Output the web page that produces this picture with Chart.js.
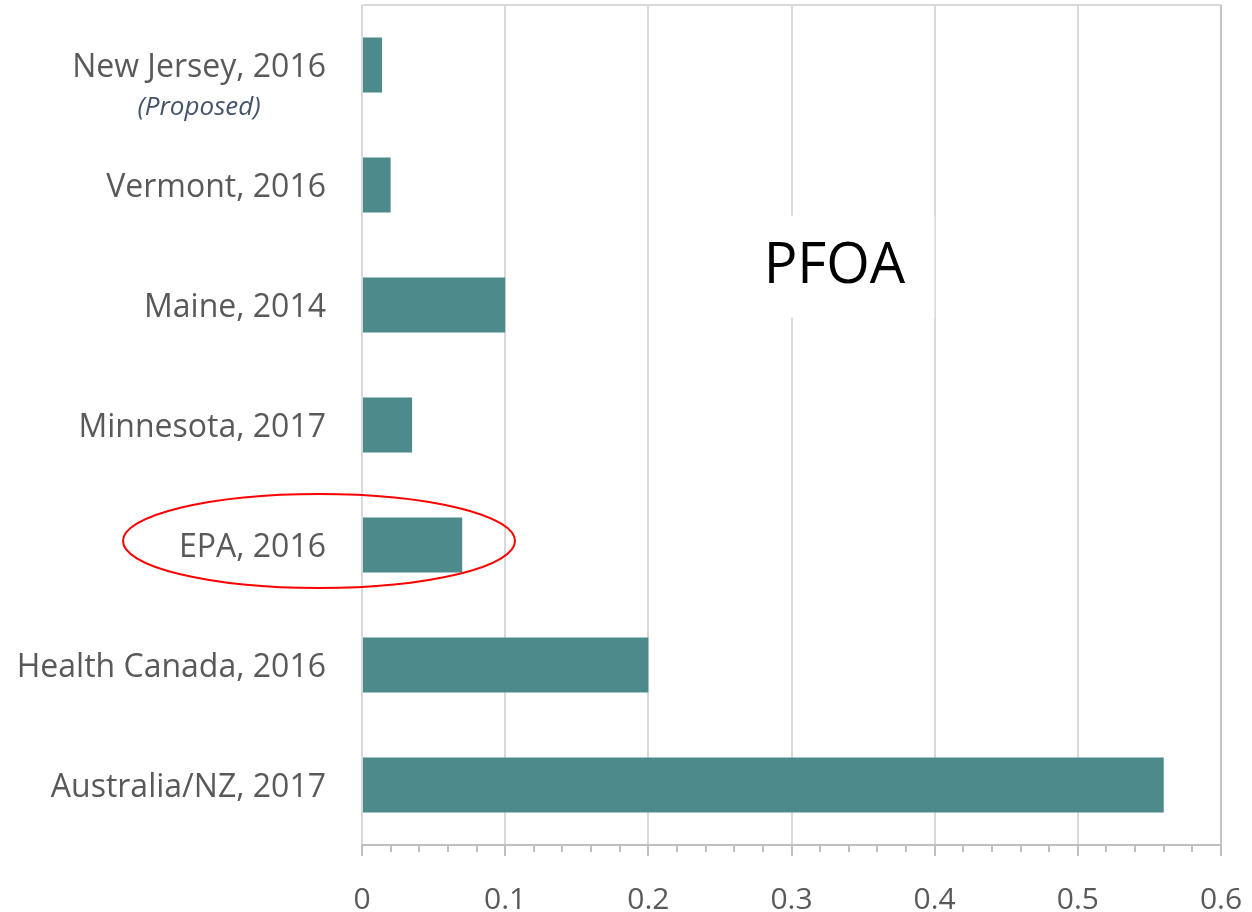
<!DOCTYPE html>
<html>
<head>
<meta charset="utf-8">
<script src="https://cdn.jsdelivr.net/npm/chart.js@4/dist/chart.umd.min.js"></script>
<style>
  html, body { margin: 0; padding: 0; background: #fff; }
  #wrap { width: 1252px; height: 912px; }
</style>
</head>
<body>
<div id="wrap"><canvas id="chart" width="1252" height="912"></canvas></div>
<script>
// Data
const categories = ["New Jersey, 2016", "Vermont, 2016", "Maine, 2014", "Minnesota, 2017", "EPA, 2016", "Health Canada, 2016", "Australia/NZ, 2017"];
const values = [0.014, 0.02, 0.1, 0.035, 0.07, 0.2, 0.56];
const xTicks = [0, 0.1, 0.2, 0.3, 0.4, 0.5, 0.6];
const minorStep = 0.02;

const FONT = "'Open Sans', 'Noto Sans', sans-serif";
const LABEL_COLOR = "#595959";
const LABEL_SIZE = 32;

// Extra drawing: borders, minor ticks, "(Proposed)", PFOA title, red ellipse
const extras = {
    id: "extras",
    beforeDatasetsDraw(chart) {
        const { ctx, chartArea: area } = chart;
        ctx.save();
        ctx.strokeStyle = "#d9d9d9";
        ctx.lineWidth = 2;
        ctx.beginPath();
        ctx.moveTo(area.left, area.top);
        ctx.lineTo(area.right, area.top);
        ctx.stroke();
        ctx.strokeStyle = "#c4c4c4";
        ctx.beginPath();
        ctx.moveTo(area.right, area.top);
        ctx.lineTo(area.right, area.bottom);
        ctx.stroke();

        // white box behind the title
        const x = chart.scales.x, y = chart.scales.y;
        const cx = x.getPixelForValue(0.33), cy = y.getPixelForValue(1.68);
        ctx.fillStyle = "#fff";
        ctx.fillRect(cx - 98, cy - 51, 198, 102);
        ctx.restore();
    },
    afterDraw(chart) {
        const { ctx, chartArea: area } = chart;
        const x = chart.scales.x, y = chart.scales.y;
        ctx.save();

        // minor ticks
        ctx.strokeStyle = "#bfbfbf";
        ctx.lineWidth = 2;
        for (let v = minorStep; v < 0.6; v += minorStep) {
            const px = Math.round(x.getPixelForValue(v));
            ctx.beginPath();
            ctx.moveTo(px, area.bottom);
            ctx.lineTo(px, area.bottom + 7);
            ctx.stroke();
        }

        // "(Proposed)" under New Jersey
        ctx.font = LABEL_SIZE + "px " + FONT;
        const labelRight = area.left - 36;
        const labelW = ctx.measureText(categories[0]).width;
        ctx.font = "italic 26px " + FONT;
        ctx.fillStyle = "#44546a";
        ctx.textAlign = "center";
        ctx.textBaseline = "middle";
        ctx.fillText("(Proposed)", labelRight - labelW / 2, y.getPixelForValue(0) + 43);

        // PFOA title
        ctx.font = "56px " + FONT;
        ctx.fillStyle = "#000";
        ctx.fillText("PFOA", x.getPixelForValue(0.33), y.getPixelForValue(1.68));

        // red ellipse around EPA
        ctx.strokeStyle = "#ff0000";
        ctx.lineWidth = 2;
        ctx.beginPath();
        ctx.ellipse(area.left - 43, y.getPixelForValue(4) - 4, 196, 47, 0, 0, Math.PI * 2);
        ctx.stroke();
        ctx.restore();
    }
};

const ctx = document.getElementById("chart").getContext("2d");
new Chart(ctx, {
    type: "bar",
    data: {
        labels: categories,
        datasets: [{
            data: values,
            backgroundColor: "#4d8a8b",
            borderWidth: 0,
            categoryPercentage: 1,
            barPercentage: 0.46
        }]
    },
    options: {
        indexAxis: "y",
        responsive: false,
        animation: false,
        layout: { padding: { top: 5, right: 31, bottom: 0, left: 0 } },
        plugins: { legend: { display: false }, tooltip: { enabled: false } },
        scales: {
            x: {
                min: 0,
                max: 0.6,
                afterBuildTicks: scale => { scale.ticks = xTicks.map(v => ({ value: v })); },
                afterFit: scale => { scale.height = 67; scale.paddingLeft = 0; scale.paddingRight = 0; },
                grid: { color: "#d9d9d9", lineWidth: 2, tickColor: "#bfbfbf", tickLength: 11 },
                border: { color: "#bfbfbf", width: 2 },
                ticks: { color: LABEL_COLOR, font: { family: FONT, size: 30 }, padding: 26, maxRotation: 0 }
            },
            y: {
                afterFit: scale => { scale.width = 362; scale.paddingTop = 0; scale.paddingBottom = 0; },
                grid: { display: false, drawTicks: false },
                border: { display: false },
                ticks: { color: LABEL_COLOR, font: { family: FONT, size: LABEL_SIZE }, padding: 36, labelOffset: 3 }
            }
        }
    },
    plugins: [extras]
});
</script>
</body>
</html>
